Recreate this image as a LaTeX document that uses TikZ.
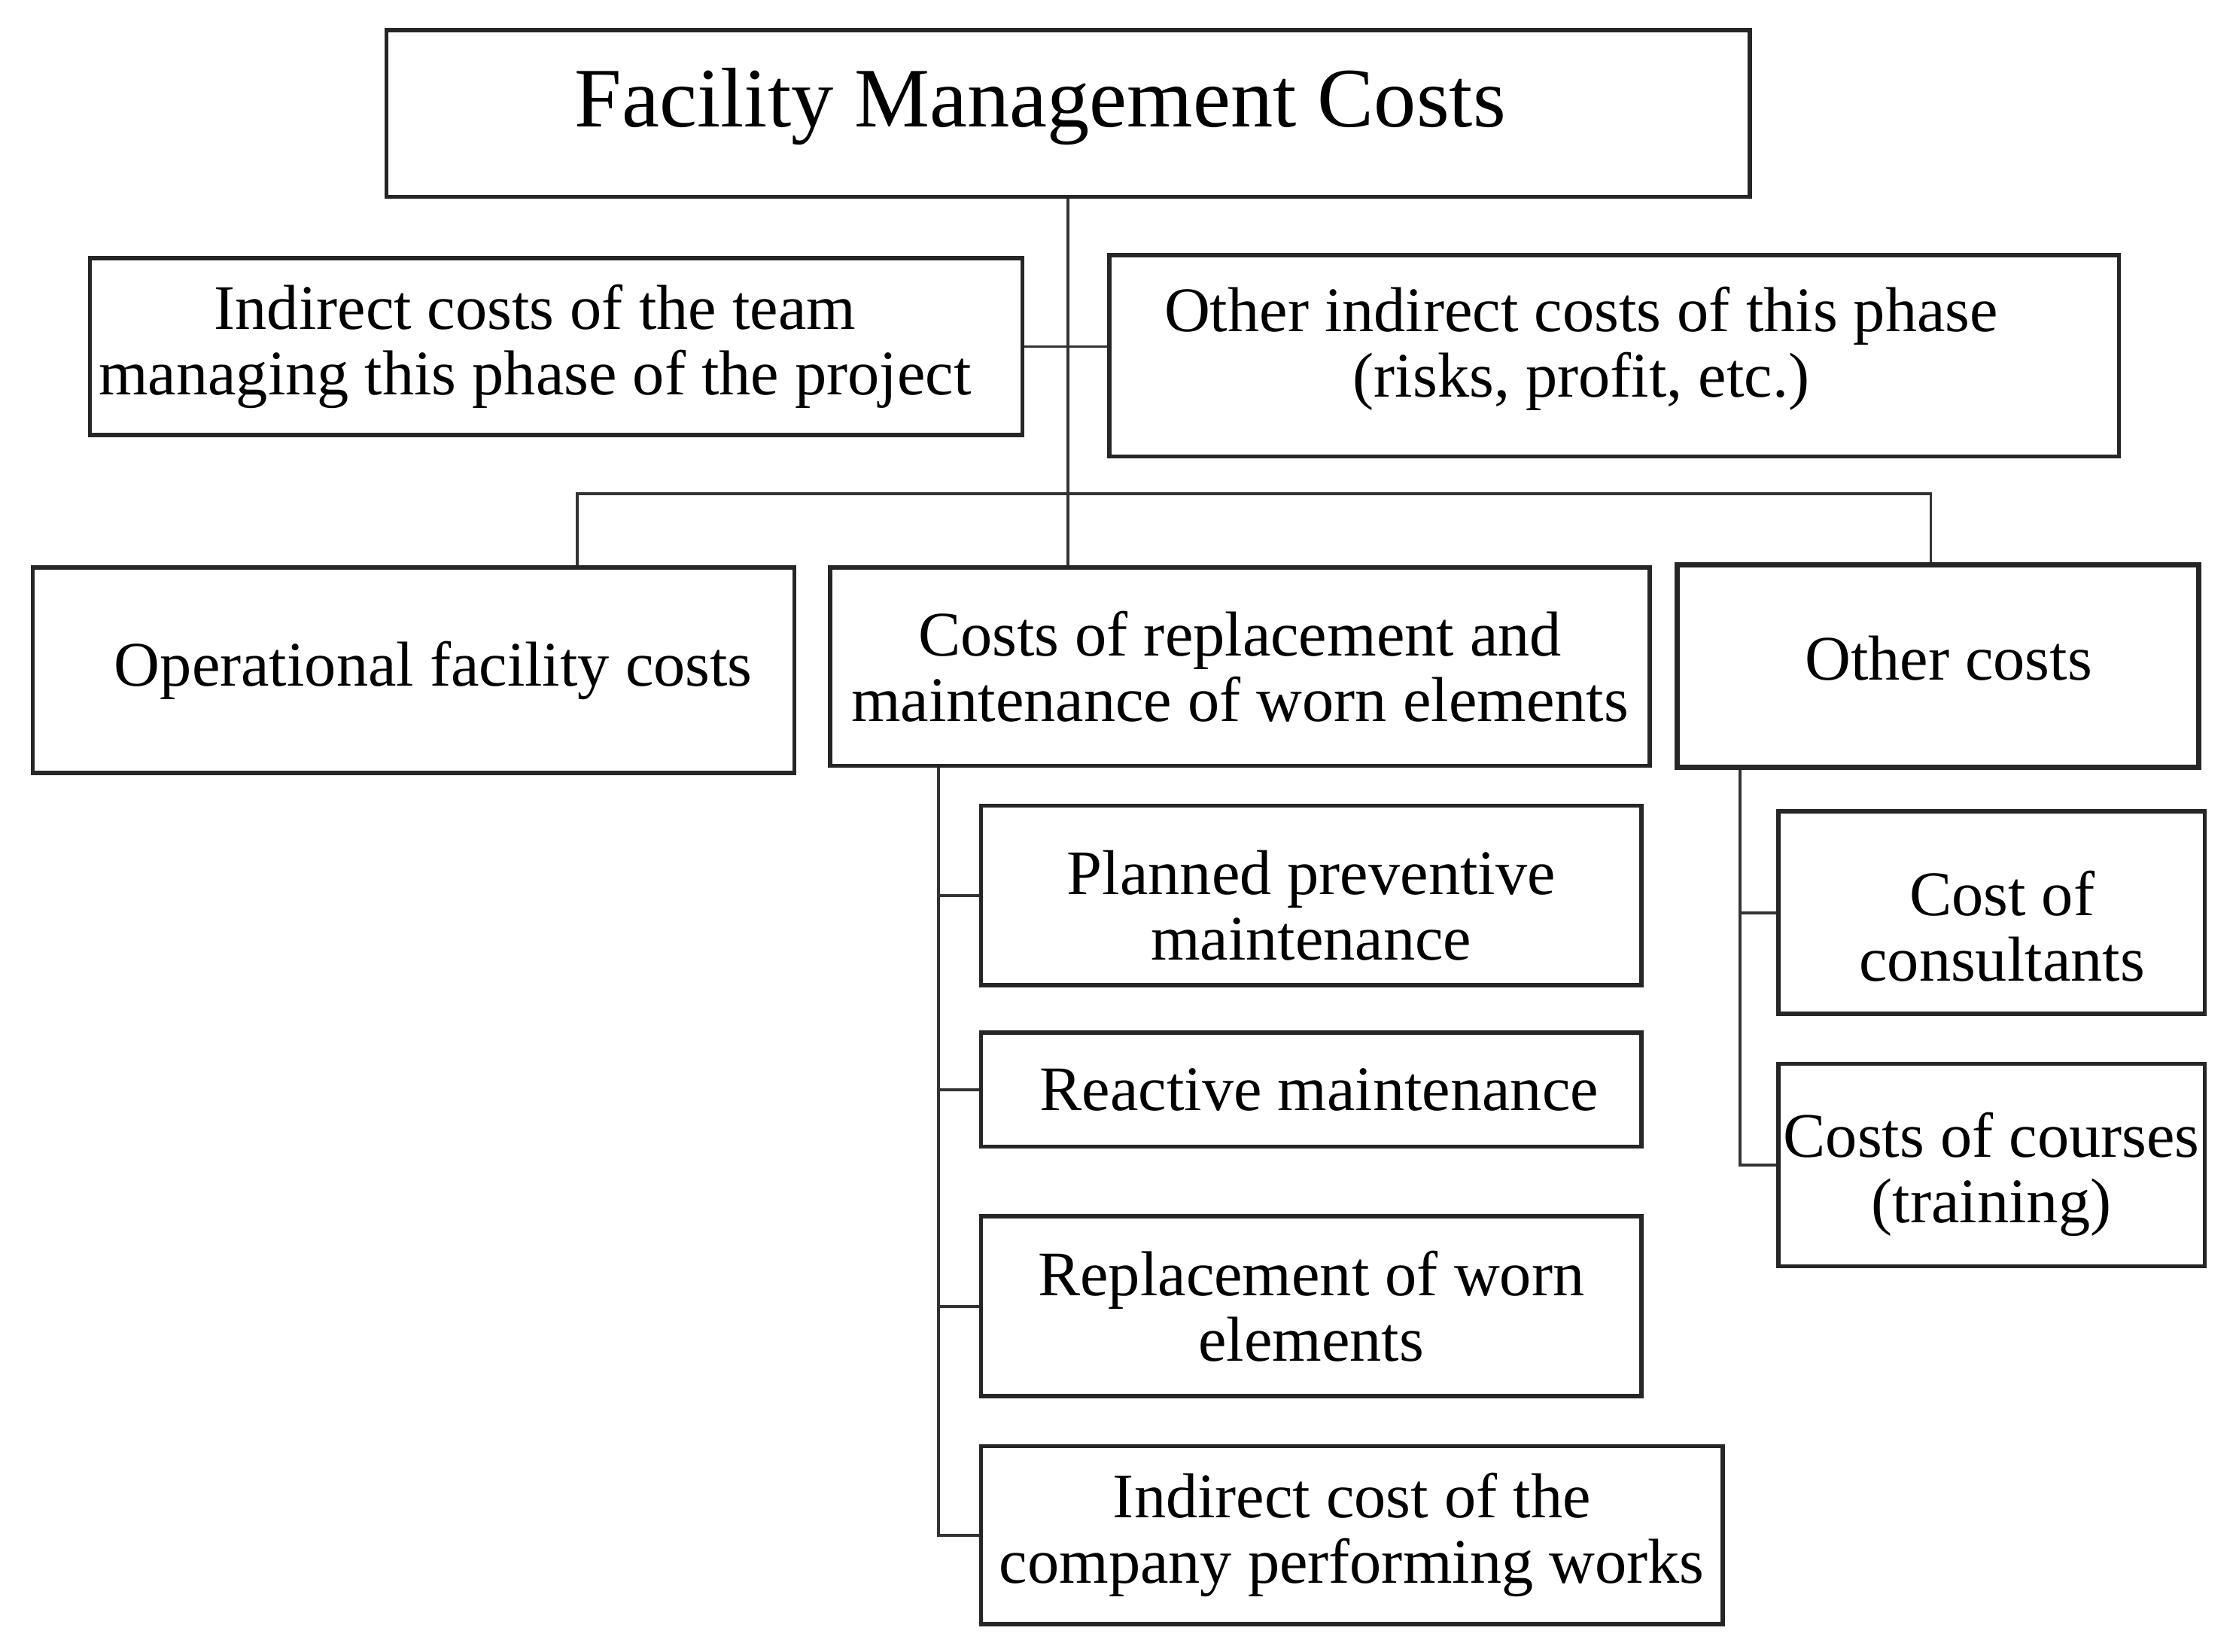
\documentclass[tikz,border=0pt]{standalone}
\usepackage{fontspec}
\setmainfont{Liberation Serif}
\begin{document}
\begin{tikzpicture}[x=0.018948cm,y=-0.018948cm,
  box/.style={draw=black!85, line width=1.6pt, align=center, inner sep=0pt,
    font=\fontsize{24}{24.8}\selectfont},
  sz/.style 2 args={minimum width=#1*0.018948cm, minimum height=#2*0.018948cm},
  conn/.style={draw=black!80, line width=1.1pt}]
\useasboundingbox (0,0) rectangle (1568,1158);
\node[box, sz={956}{117}, font=\fontsize{32}{36}\selectfont] (top) at (749,79.5) {\hspace*{-21pt}Facility Management Costs\rule[-12pt]{0pt}{0pt}};
\node[box, sz={654}{124}] (team) at (390,243) {\hspace*{-16pt}Indirect costs of the team\\\hspace*{-16pt}managing this phase of the project};
\node[box, sz={708}{141}] (oind) at (1132,249.5) {\hspace*{-25pt}Other indirect costs of this phase\\\hspace*{-25pt}(risks, profit, etc.)\rule[-10.5pt]{0pt}{0pt}};
\node[box, sz={534}{144}] (oper) at (290,470) {\hspace*{15pt}Operational facility costs};
\node[box, sz={575}{139}] (repl) at (869.5,467.5) {Costs of replacement and\\maintenance of worn elements};
\node[box, sz={366}{142}, line width=1.9pt] (oth) at (1359,467) {\hspace*{8pt}Other costs\rule[-6pt]{0pt}{0pt}};
\node[box, sz={463}{126}] (plan) at (919.5,628) {\rule{0pt}{24pt}Planned preventive\\maintenance};
\node[box, sz={463}{80}] (reac) at (919.5,764) {\hspace*{6pt}Reactive maintenance};
\node[box, sz={463}{126}] (worn) at (919.5,916) {Replacement of worn\\elements};
\node[box, sz={520}{125}] (icomp) at (948,1076.5) {Indirect cost of the\\company performing works};
\node[box, sz={299}{142}] (cons) at (1396.5,640) {\rule{0pt}{27pt}\hspace*{8pt}Cost of\\\hspace*{8pt}consultants};
\node[box, sz={299}{142}] (cour) at (1396.5,817) {\rule{0pt}{24pt}Costs of courses\\(training)};
% connectors
\coordinate (bl) at (405,346);
\coordinate (br) at (1354,346);
\coordinate (rb) at (658,537);
\coordinate (ob) at (1220,538);
\draw[conn] (top.south) -- (top.south |- repl.north);
\draw[conn] (team.east) -- (oind.west |- team.east);
\draw[conn] (oper.north -| bl) -- (bl) -- (br) -- (oth.north -| br);
\draw[conn] (repl.south -| rb) -- (rb |- icomp.west) -- (icomp.west);
\draw[conn] (rb |- plan.west) -- (plan.west);
\draw[conn] (rb |- reac.west) -- (reac.west);
\draw[conn] (rb |- worn.west) -- (worn.west);
\draw[conn] (oth.south -| ob) -- (ob |- cour.west) -- (cour.west);
\draw[conn] (ob |- cons.west) -- (cons.west);
\end{tikzpicture}
\end{document}
